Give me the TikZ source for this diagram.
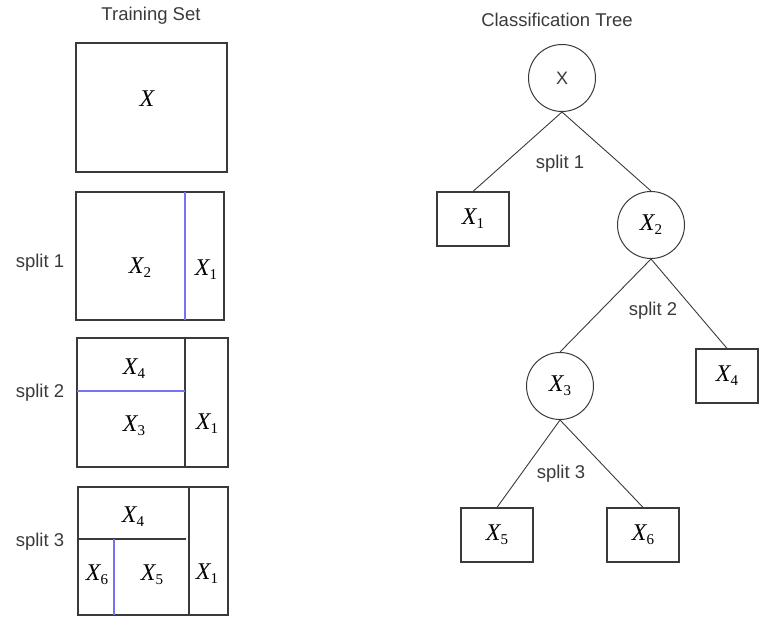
\documentclass[tikz,border=0pt]{standalone}
\usepackage{fontspec}
\setsansfont{Liberation Sans}
\newfontfamily\vfont{Liberation Serif}
\usetikzlibrary{positioning}
\definecolor{ink}{HTML}{3A3A3A}
\definecolor{cutblue}{HTML}{7474F2}
% X with an optional index
\newcommand{\xv}[1]{{\itshape X}\raisebox{-.35ex}{\fontsize{15}{17}\selectfont#1}}
\tikzset{lbl/.style={font=\sffamily\fontsize{18.5}{21}\selectfont,text=ink,inner sep=1pt},
  var/.style={font=\vfont\fontsize{24}{27}\selectfont,inner sep=1pt},
  cell/.style={draw=ink,line width=1.7pt},
  cut/.style={draw=cutblue,line width=1.1pt},
  wall/.style={draw=ink,line width=1.3pt},
  split/.style={circle,draw=ink,line width=1pt,minimum size=67pt,inner sep=0pt,font=\vfont\fontsize{24}{27}\selectfont},
  leaf/.style={rectangle,draw=ink,line width=1.2pt,minimum width=72pt,minimum height=54pt,inner sep=0pt,font=\vfont\fontsize{24}{27}\selectfont},
  branch/.style={draw=ink,line width=.9pt}}

\begin{document}
\begin{tikzpicture}[x=1pt,y=-1pt]
\useasboundingbox (0,0) rectangle (759,617);
% training set, one panel per split
\node[lbl] (trainT) at (151,16) {Training Set};
\draw[cell] (76,43) rectangle (227,172);
\node[var] (p0x) at (147,101) {\xv{}};

\node[lbl] (s1) at (40,263) {split 1};
\draw[cell] (76,192) rectangle (224,320);
\draw[cut] (185,192) -- (185,320);
\node[var] (p1x2) at (140,268) {\xv{2}};
\node[var] (p1x1) at (206,270) {\xv{1}};

\node[lbl] (s2) at (40,393) {split 2};
\draw[cell] (77,338) rectangle (228,467);
\draw[wall] (185,338) -- (185,467);
\draw[cut] (77,391) -- (185,391);
\node[var] (p2x4) at (134,369) {\xv{4}};
\node[var] (p2x3) at (134,426) {\xv{3}};
\node[var] (p2x1) at (207,424) {\xv{1}};

\node[lbl] (s3) at (40,542) {split 3};
\draw[cell] (78,487) rectangle (228,615);
\draw[wall] (189,487) -- (189,615);
\draw[wall] (78,539) -- (186,539);
\draw[cut] (114,539) -- (114,615);
\node[var] (p3x4) at (133,517) {\xv{4}};
\node[var] (p3x6) at (97,575) {\xv{6}};
\node[var] (p3x5) at (152,575) {\xv{5}};
\node[var] (p3x1) at (207,574) {\xv{1}};

% the tree
\node[lbl] (treeT) at (557,20) {Classification Tree};
\node[split,font=\sffamily\fontsize{18}{20}\selectfont,text=ink] (X) at (562,78) {X};
\node[leaf] (X1) at (473,219) {\xv{1}};
\node[split] (X2) at (651,225) {\xv{2}};
\node[split] (X3) at (560,386) {\xv{3}};
\node[leaf,minimum width=62pt] (X4) at (727,376) {\xv{4}};
\node[leaf] (X5) at (497,535) {\xv{5}};
\node[leaf] (X6) at (643,535) {\xv{6}};
\draw[branch] (X.south) -- (X1.north);
\draw[branch] (X.south) -- (X2.north);
\draw[branch] (X2.south) -- (X3.north);
\draw[branch] (X2.south) -- (X4.north);
\draw[branch] (X3.south) -- (X5.north);
\draw[branch] (X3.south) -- (X6.north);
\node[lbl] (t1) at (560,164) {split 1};
\node[lbl] (t2) at (653,311) {split 2};
\node[lbl] (t3) at (561,474) {split 3};
\end{tikzpicture}
\end{document}
